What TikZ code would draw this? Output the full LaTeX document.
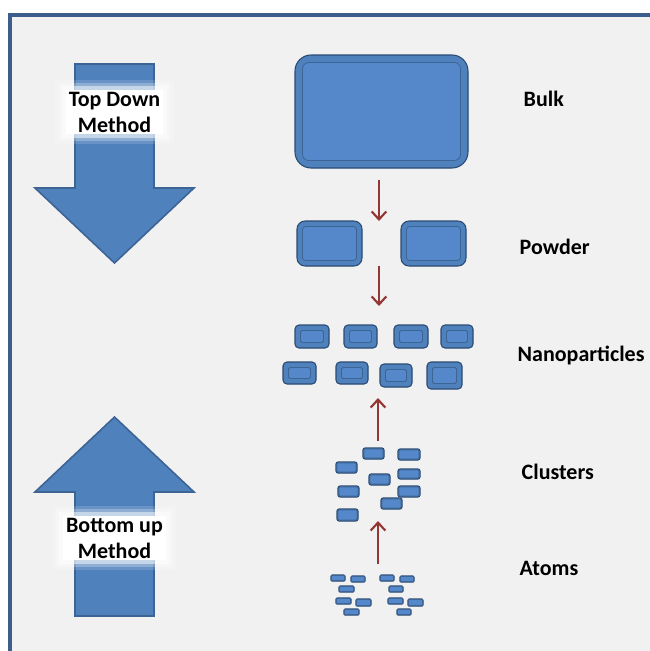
\documentclass[tikz,border=0pt]{standalone}
\usepackage{fontspec}
\setsansfont{Carlito}
\usepackage{tikz}
\usepackage{xcolor}
\usetikzlibrary{calc,arrows.meta,positioning}

\definecolor{framebg}{HTML}{F1F1F1}
\definecolor{frameline}{HTML}{3B5E8C}
\definecolor{bluefill}{HTML}{4F81BD}
\definecolor{blueline}{HTML}{3C6494}
\definecolor{tilein}{HTML}{5588CA}
\definecolor{tileedge}{HTML}{2B4A72}
\definecolor{darkred}{HTML}{943634}

\tikzset{
  tileout/.style={draw=tileedge, fill=bluefill, line width=0.8pt, inner sep=0pt},
  tilein/.style={draw=blueline, fill=tilein, line width=0.6pt},
  bigarrow/.style={draw=blueline, fill=bluefill, line width=1.2pt, line join=miter},
  step arrow/.style={draw=darkred, line width=1.6pt, -{Straight Barb[length=6pt,width=11pt,line width=1.6pt]}},
  glow/.style={fill=white, align=center, inner xsep=2pt, inner ysep=1pt,
    font=\sffamily\bfseries\fontsize{16.5}{19.5}\selectfont,
    preaction={draw=white, line width=16pt, opacity=0.15},
    preaction={draw=white, line width=11pt, opacity=0.25},
    preaction={draw=white, line width=6pt, opacity=0.5}},
  stage/.style={anchor=west, font=\sffamily\bfseries\fontsize{16.5}{19}\selectfont}
}

% name, centre x, centre y, width, height, inset, corner radius
\newcommand\tile[7]{%
  \node[tileout, rounded corners=#7*0.75pt, minimum width=#4*0.75pt, minimum height=#5*0.75pt] (#1) at (#2,#3) {};
  \draw[tilein, rounded corners=#7*0.3pt] ([shift={(#6,#6)}]#1.north west) rectangle ([shift={(-#6,-#6)}]#1.south east);
}

\begin{document}
\begin{tikzpicture}[x=0.75pt,y=-0.75pt]
\useasboundingbox (0,0) rectangle (650,651);
\fill[framebg] (10,15) rectangle (652,652);
\draw[frameline, line width=2.4pt] (10,653) -- (10,15) -- (652,15);

\draw[bigarrow] (75,64) -- (154,64) -- (154,188) -- (194,188) -- (114.5,263) -- (35,188) -- (75,188) -- cycle;
\node[glow] (topdown) at (114.5,112) {Top Down\\Method};

\draw[bigarrow] (75,616) -- (154,616) -- (154,492) -- (194,492) -- (114.5,417) -- (35,492) -- (75,492) -- cycle;
\node[glow] (bottomup) at (114.5,538) {Bottom up\\Method};

\tile{bulk}{381.5}{111.5}{173}{113}{8}{16}

\tile{powderA}{329.5}{243.5}{65}{45}{6}{8}
\tile{powderB}{433.5}{243.5}{65}{45}{6}{8}

\tile{nanoA}{312}{336.5}{34}{23}{6}{4}
\tile{nanoB}{360.5}{336.5}{33}{23}{6}{4}
\tile{nanoC}{411}{336.5}{34}{23}{6}{4}
\tile{nanoD}{457}{336.5}{32}{23}{6}{4}
\tile{nanoE}{299.5}{373}{33}{22}{6}{4}
\tile{nanoF}{352}{373}{32}{22}{6}{4}
\tile{nanoG}{396}{375.5}{32}{23}{6}{4}
\tile{nanoH}{444.5}{375.5}{35}{27}{6}{4}

\tile{clusA}{373.5}{453.5}{21}{11}{1.5}{2}
\tile{clusB}{409}{454.5}{22}{11}{1.5}{2}
\tile{clusC}{346.5}{467.5}{21}{11}{1.5}{2}
\tile{clusD}{379.5}{479.5}{21}{11}{1.5}{2}
\tile{clusE}{409}{474}{22}{10}{1.5}{2}
\tile{clusF}{348.5}{491.5}{21}{11}{1.5}{2}
\tile{clusG}{409}{491.5}{22}{11}{1.5}{2}
\tile{clusH}{391.5}{503.5}{21}{11}{1.5}{2}
\tile{clusI}{347.5}{515}{21}{12}{1.5}{2}

\tile{atomA}{338}{578}{14}{6}{1}{1}
\tile{atomB}{358}{579}{14}{6}{1}{1}
\tile{atomC}{346.5}{589}{15}{6}{1}{1}
\tile{atomD}{343.5}{601}{15}{6}{1}{1}
\tile{atomE}{363.5}{602.5}{15}{7}{1}{1}
\tile{atomF}{351.5}{612}{15}{6}{1}{1}
\tile{atomG}{387}{578}{14}{6}{1}{1}
\tile{atomH}{407}{579}{14}{6}{1}{1}
\tile{atomI}{396}{589}{14}{6}{1}{1}
\tile{atomJ}{395.5}{601}{15}{6}{1}{1}
\tile{atomK}{415.5}{602.5}{15}{7}{1}{1}
\tile{atomL}{404}{612}{14}{6}{1}{1}

\coordinate (a1) at (379,180);
\coordinate (b1) at (379,221);
\coordinate (a2) at (379,266);
\coordinate (b2) at (379,306);
\coordinate (a3) at (378,441);
\coordinate (b3) at (378,398);
\coordinate (a4) at (378,564);
\coordinate (b4) at (378,521);
\draw[step arrow] (a1) -- (b1);
\draw[step arrow] (a2) -- (b2);
\draw[step arrow] (a3) -- (b3);
\draw[step arrow] (a4) -- (b4);

\node[stage] (lbulk) at (519,99) {Bulk};
\node[stage] (lpowder) at (515,247) {Powder};
\node[stage] (lnano) at (513,355) {Nanoparticles};
\node[stage] (lclusters) at (517,472) {Clusters};
\node[stage] (latoms) at (515,568) {Atoms};
\end{tikzpicture}
\end{document}
